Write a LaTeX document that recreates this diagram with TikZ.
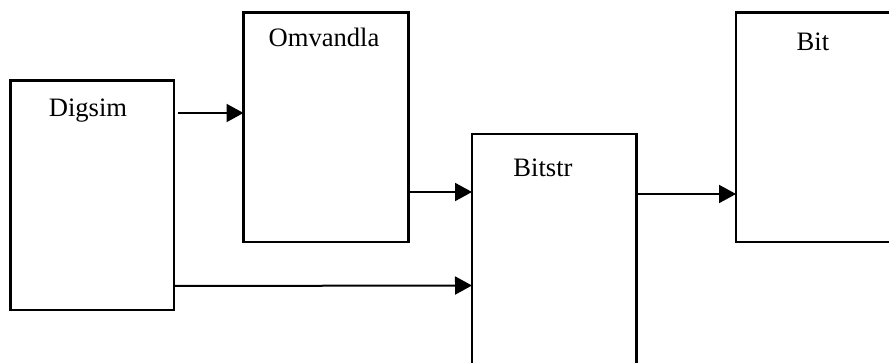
\documentclass[tikz,border=0pt]{standalone}
\usepackage{fontspec}
\setmainfont{Liberation Serif}
\usetikzlibrary{arrows.meta}
\begin{document}
\begin{tikzpicture}[x=1pt,y=1pt,
  blk/.style={draw=black,line width=2.5pt,rectangle,inner sep=0pt,outer sep=0pt,anchor=north west},
  lbl/.style={anchor=base,inner sep=0pt,font=\fontsize{26.6}{30}\selectfont},
  arr/.style={line width=2pt,-{Triangle[length=17pt,width=18pt]}}]
\useasboundingbox (0,0) rectangle (889,-363);
\clip (0,0) rectangle (889,-363);
\node[blk,minimum width=163.5pt,minimum height=229.5pt] (dig) at (10.5,-80.5) {};
\node[blk,minimum width=165pt,minimum height=229.5pt] (omv) at (243.5,-12.5) {};
\node[blk,minimum width=164.5pt,minimum height=240pt] (bts) at (472,-134) {};
\node[blk,minimum width=165pt,minimum height=229.5pt] (bit) at (736,-12.5) {};
\node[lbl] (tdig) at (88,-117) {Digsim};
\node[lbl] (tomv) at (324,-47) {Omvandla};
\node[lbl] (tbts) at (543,-177) {Bitstr};
\node[lbl] (tbit) at (813,-51) {Bit};
\draw[arr] ([xshift=4pt,yshift=-32.5pt]dig.north east) -- ([yshift=-100.5pt]omv.north west);
\draw[arr] ([yshift=-179.5pt]omv.north east) -- ([yshift=-58pt]bts.north west);
\draw[arr] ([yshift=-205.5pt]dig.north east) -- ([yshift=-151.5pt]bts.north west);
\draw[arr] ([yshift=-60pt]bts.north east) -- ([yshift=-181.5pt]bit.north west);
\end{tikzpicture}
\end{document}
